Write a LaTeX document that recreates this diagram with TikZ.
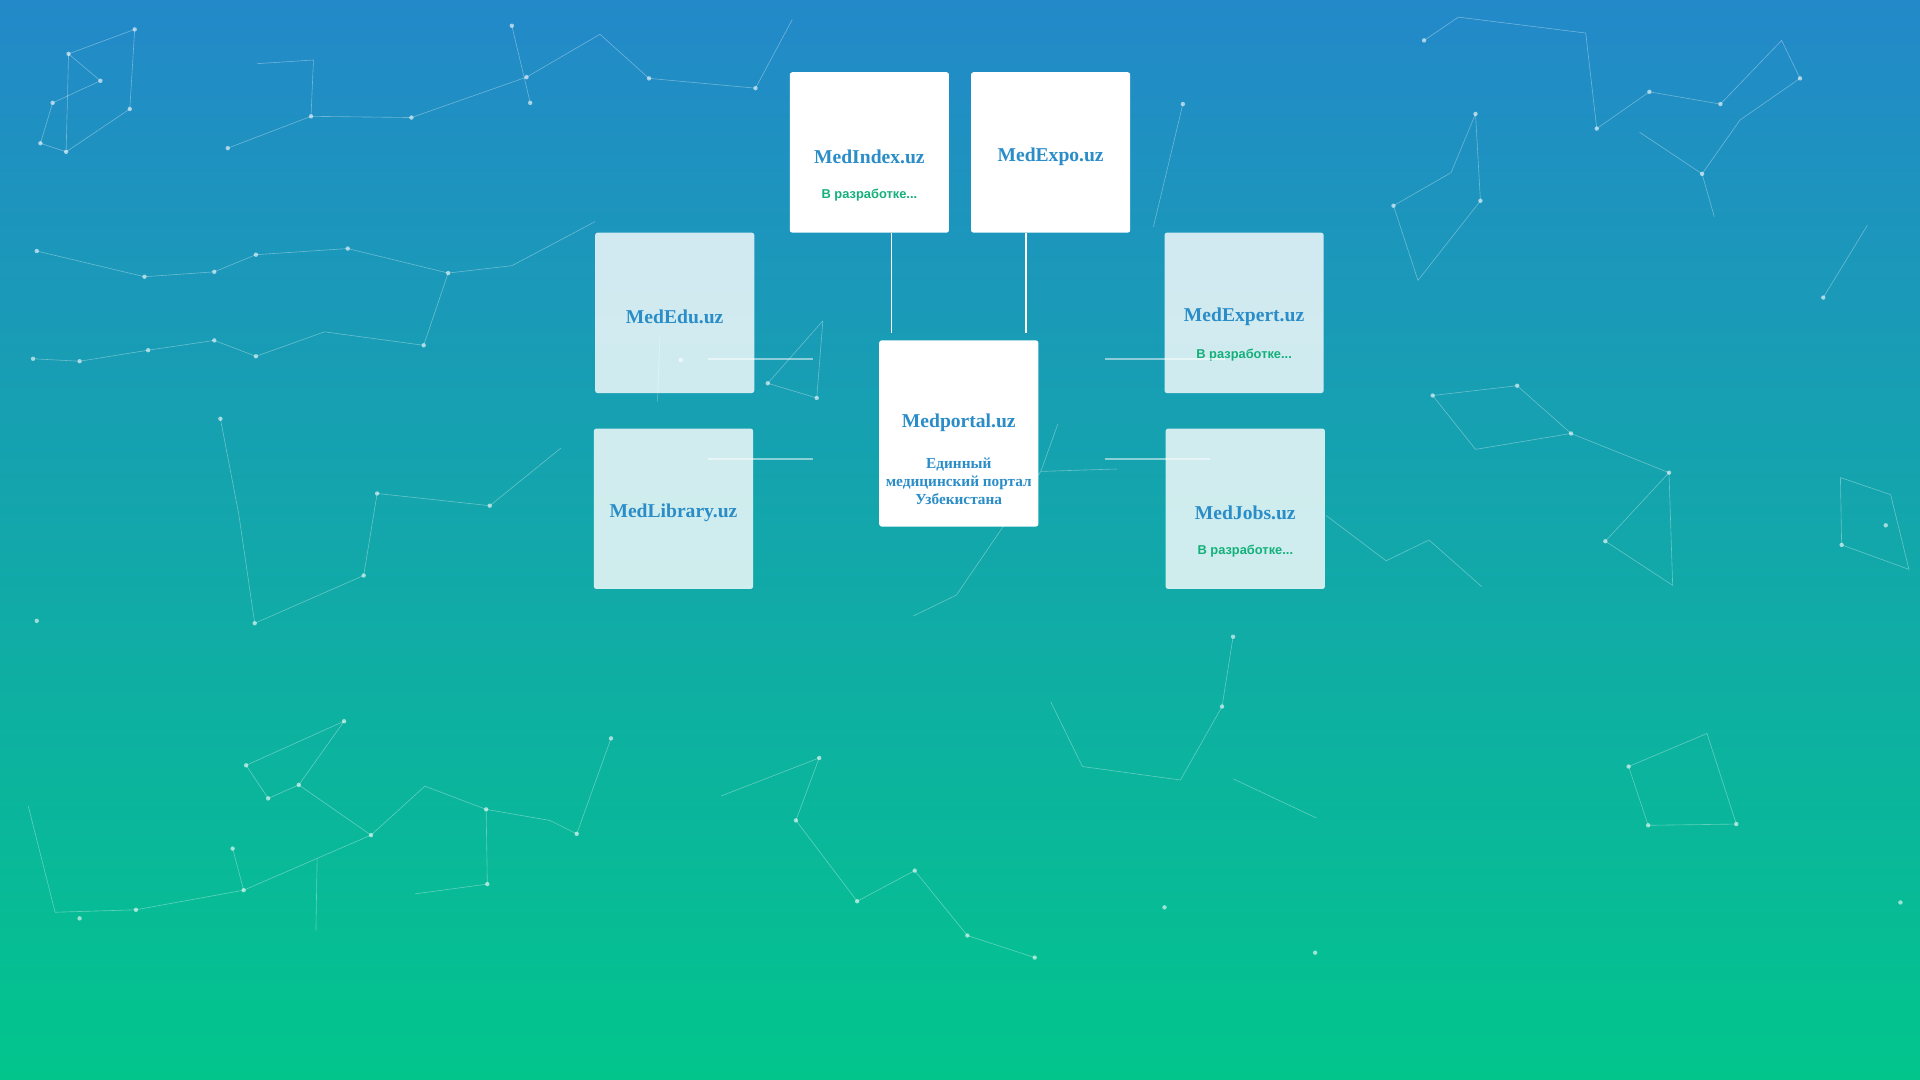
\documentclass[tikz,border=0pt]{standalone}
\usepackage{fontspec}
\setmainfont{Liberation Serif}
\newfontfamily\subfont{Liberation Sans}
\definecolor{bgtop}{HTML}{2389C9}
\definecolor{bgbot}{HTML}{02C58C}
\definecolor{titleblue}{HTML}{2A8DC8}
\definecolor{devgreen}{HTML}{14B07A}
\tikzset{
  site/.style={fill=white, rounded corners=2pt, minimum width=130pt, minimum height=131pt, inner sep=0pt},
  sitelight/.style={site, fill opacity=0.8, text opacity=1},
  sitename/.style={font=\bfseries\fontsize{16}{18}\selectfont, text=titleblue},
  devnote/.style={font=\subfont\bfseries\fontsize{10.5}{12}\selectfont, text=devgreen},
  link/.style={draw=white, line width=1.5pt},
  faintlink/.style={draw=white, opacity=0.5, line width=1.2pt},
  web/.style={draw=white, opacity=0.35, line width=0.5pt},
  dot/.style={fill=white, opacity=0.6}
}
\begin{document}
\begin{tikzpicture}[x=1pt, y=-1pt]
  \useasboundingbox (0,0) rectangle (1568,882);
  \shade[top color=bgtop, bottom color=bgbot] (0,0) rectangle (1568,882);
  % background web
  \foreach \a/\b/\c/\d in {56/44/110/24, 56/44/82/66, 82/66/43/84, 43/84/33/117, 33/117/54/124, 54/124/106/89, 106/89/110/24, 56/44/54/124, 30/205/118/226, 118/226/175/222, 175/222/209/208, 209/208/284/203, 284/203/366/223, 366/223/418/217, 418/217/486/181, 27/293/65/295, 65/295/121/286, 121/286/175/278, 175/278/209/291, 209/291/265/271, 265/271/346/282, 346/282/366/223, 186/121/254/95, 254/95/336/96, 336/96/430/63, 430/63/490/28, 490/28/530/64, 530/64/617/72, 617/72/647/16, 418/21/433/84, 210/52/256/49, 256/49/254/95, 180/342/195/420, 195/420/208/509, 208/509/297/470, 297/470/308/403, 308/403/400/413, 400/413/458/366, 281/589/201/625, 201/625/219/652, 219/652/244/641, 244/641/281/589, 244/641/303/682, 303/682/347/642, 347/642/397/661, 397/661/449/670, 449/670/471/681, 471/681/499/603, 190/693/199/727, 199/727/259/701, 259/701/303/682, 259/701/258/760, 339/730/398/722, 398/722/397/661, 23/658/45/745, 45/745/111/743, 111/743/199/727, 589/650/669/619, 669/619/650/670, 650/670/700/736, 700/736/747/711, 747/711/790/764, 790/764/845/782, 858/573/884/626, 884/626/964/637, 964/637/998/577, 998/577/1007/520, 1007/636/1075/668, 1170/323/1239/315, 1239/315/1283/354, 1283/354/1205/367, 1205/367/1170/323, 1283/354/1363/386, 1363/386/1311/442, 1311/442/1366/478, 1366/478/1363/386, 1167/441/1132/458, 1167/441/1210/479, 1132/458/1083/421, 1163/33/1191/14, 1191/14/1295/27, 1205/93/1185/141, 1185/141/1138/168, 1138/168/1158/229, 1158/229/1209/164, 1209/164/1205/93, 1295/27/1304/105, 1304/105/1347/75, 1347/75/1405/85, 1405/85/1455/33, 1455/33/1470/64, 1470/64/1421/98, 1421/98/1390/142, 1390/142/1400/177, 1339/108/1390/142, 1503/390/1544/404, 1544/404/1559/465, 1559/465/1504/445, 1504/445/1503/390, 1330/626/1394/599, 1394/599/1418/673, 1418/673/1346/674, 1346/674/1330/626, 1489/243/1525/184, 966/85/942/185, 746/503/781/486, 781/486/850/385, 850/385/912/383, 850/385/864/346, 667/325/627/313, 627/313/672/262, 672/262/667/325, 537/328/539/273} {
    \draw[web] (\a,\b) -- (\c,\d);
  }
  \foreach \x/\y in {56/44, 110/24, 82/66, 43/84, 33/117, 54/124, 106/89, 30/205, 118/226, 175/222, 209/208, 284/203, 366/223, 27/293, 65/295, 121/286, 175/278, 209/291, 346/282, 186/121, 254/95, 336/96, 430/63, 530/64, 617/72, 418/21, 433/84, 180/342, 208/509, 297/470, 308/403, 400/413, 281/589, 201/625, 219/652, 244/641, 303/682, 397/661, 471/681, 499/603, 190/693, 199/727, 398/722, 65/750, 111/743, 669/619, 650/670, 700/736, 747/711, 790/764, 845/782, 998/577, 1007/520, 1170/323, 1239/315, 1283/354, 1363/386, 1311/442, 1163/33, 1205/93, 1138/168, 1209/164, 1304/105, 1347/75, 1405/85, 1470/64, 1390/142, 1504/445, 1540/429, 1330/626, 1346/674, 1418/673, 1489/243, 30/507, 1552/737, 1074/778, 951/741, 966/85, 627/313, 667/325, 556/294} {
    \fill[dot] (\x,\y) circle (1.8pt);
  }
  % sites
  \node[site] (medindex) at (710,124.5) {};
  \node[sitename] at (710,128) {MedIndex.uz};
  \node[devnote] at (710,159) {В разработке...};
  \node[site] (medexpo) at (858,124.5) {};
  \node[sitename] at (858,128) {MedExpo.uz};
  \node[sitelight] (mededu) at (551,255.5) {};
  \node[sitename] at (551,259) {MedEdu.uz};
  \node[sitelight] (medexpert) at (1016,255.5) {};
  \node[sitename] at (1016,259) {MedExpert.uz};
  \node[devnote] at (1016,290) {В разработке...};
  \node[site, minimum height=152pt] (medportal) at (783,354) {};
  \node[sitename] at (783,345) {Medportal.uz};
  \node[font=\bfseries\fontsize{12.5}{15}\selectfont, text=titleblue, align=center] at (783,393) {Единный\\медицинский портал\\Узбекистана};
  \node[sitelight] (medlibrary) at (550,415.5) {};
  \node[sitename] at (550,419) {MedLibrary.uz};
  \node[sitelight] (medjobs) at (1017,415.5) {};
  \node[sitename] at (1017,419) {MedJobs.uz};
  \node[devnote] at (1017,450) {В разработке...};
  % connectors
  \coordinate (indexend) at (728,272);
  \coordinate (expoend) at (838,272);
  \draw[link] (medindex.south -| indexend) -- (indexend);
  \draw[link] (medexpo.south -| expoend) -- (expoend);
  \coordinate (eduend) at (578,293);
  \coordinate (libend) at (578,375);
  \coordinate (expertend) at (1000,293);
  \coordinate (jobsend) at (988,375);
  \draw[faintlink] (eduend) -- (664,293);
  \draw[faintlink] (libend) -- (664,375);
  \draw[faintlink] (902,293) -- (expertend);
  \draw[faintlink] (902,375) -- (jobsend);
\end{tikzpicture}
\end{document}
